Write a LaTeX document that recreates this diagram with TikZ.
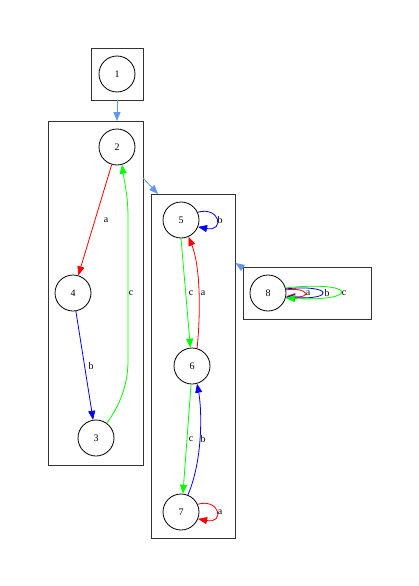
\documentclass[tikz,border=0pt]{standalone}
\usepackage{fontspec}
\setmainfont{Liberation Serif}
\usetikzlibrary{arrows.meta}
\definecolor{cblue}{RGB}{100,149,237}
\definecolor{egreen}{RGB}{0,255,0}
\definecolor{ered}{RGB}{255,0,0}
\definecolor{eblue}{RGB}{0,0,255}
\begin{document}
\begin{tikzpicture}[x=1pt,y=-1pt,
  every node/.style={font=\fontsize{10}{12}\selectfont},
  st/.style={draw,circle,line width=0.8pt,minimum size=36pt,inner sep=0pt},
  clusterbox/.style={draw,line width=0.8pt,black!80},
  edg/.style={line width=0.8pt,-{Triangle[length=9pt,width=7pt]}},
  lbl/.style={inner sep=0pt,fill=none}]
\useasboundingbox (0,0) rectangle (418,586);
% clusters
\draw[clusterbox] (91,48) rectangle (143,100);
\draw[clusterbox] (48,121) rectangle (143,465);
\draw[clusterbox] (151,194) rectangle (235,538);
\draw[clusterbox] (243,267) rectangle (371,319);
\coordinate (c1b) at (117,100);
\coordinate (c2t) at (117,121);
\coordinate (c2r) at (143,178);
\coordinate (c5t) at (158,194);
\coordinate (c8c) at (243,268);
\coordinate (c5r) at (235.5,263);
% nodes
\node[st] (n1) at (117,74) {1};
\node[st] (n2) at (117,147) {2};
\node[st] (n4) at (73,293) {4};
\node[st] (n3) at (96,438) {3};
\node[st] (n5) at (181,220) {5};
\node[st] (n6) at (192,366) {6};
\node[st] (n7) at (181,512) {7};
\node[st] (n8) at (268,293) {8};
% cluster edges
\draw[edg,cblue] (c1b) -- (c2t);
\draw[edg,cblue] (c2r) -- (c5t);
\draw[edg,cblue] (c8c) -- (c5r);
% cluster 2 edges
\draw[edg,ered] (n2) -- (n4);
\node[lbl] (la) at (106,220) {a};
\draw[edg,eblue] (n4) -- (n3);
\node[lbl] (lb) at (91,366) {b};
\draw[edg,egreen] (n3.54) .. controls (120,405) and (128,385) .. (128,360) -- (128,217) .. controls (128,195) and (124,180) .. (n2.-74);
\node[lbl] (lc) at (131,293) {c};
% cluster 5 edges
\draw[edg,eblue] (n5.25) .. controls (220,206) and (225,232) .. (n5.-22);
\node[lbl] (lb5) at (220,220) {b};
\draw[edg,egreen] (n5.-90) -- (n6.95);
\node[lbl] (lc56) at (191,293) {c};
\draw[edg,ered] (n6.74) .. controls (201,310) and (200,265) .. (n5.-66);
\node[lbl] (la65) at (203,293) {a};
\draw[edg,egreen] (n6.-93) -- (n7.84);
\node[lbl] (lc67) at (191,439) {c};
\draw[edg,eblue] (n7.68) .. controls (203,460) and (202,410) .. (n6.-74);
\node[lbl] (lb76) at (203,439) {b};
\draw[edg,ered] (n7.25) .. controls (220,498) and (225,524) .. (n7.-22);
\node[lbl] (la7) at (220,512) {a};
% cluster 8 loops
\draw[edg,ered] (n8.10) .. controls (308,287) and (312,298) .. (n8.-10);
\draw[edg,eblue] (n8.13) .. controls (332,284) and (336,300) .. (n8.-13);
\draw[edg,egreen] (n8.16) .. controls (357,280) and (361,302) .. (n8.-16);
\node[lbl] (la8) at (308,293) {a};
\node[lbl] (lb8) at (327,293) {b};
\node[lbl] (lc8) at (344,293) {c};
\end{tikzpicture}
\end{document}
